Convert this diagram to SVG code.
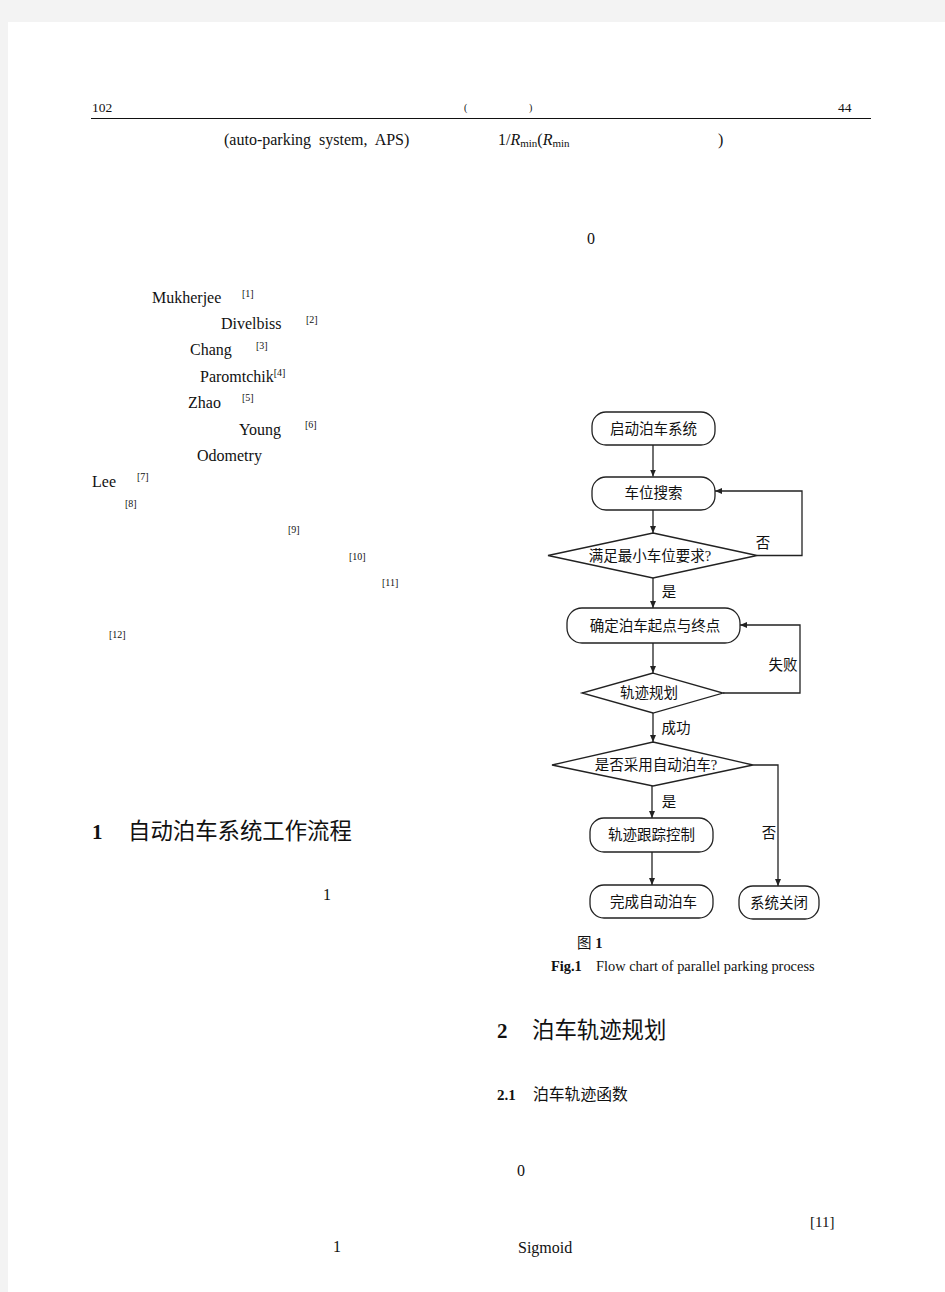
<svg xmlns="http://www.w3.org/2000/svg" width="945" height="1292" viewBox="0 0 945 1292">
<style>
.t{font-family:"Liberation Serif","Noto Sans CJK SC",serif;fill:#111;}
.b{font-weight:bold;}
.cj{font-family:"Liberation Serif","Noto Sans CJK SC",sans-serif;fill:#111;}
.node{fill:#fff;stroke:#222;stroke-width:1.3;}
.lbl{font-family:"Liberation Serif","Noto Sans CJK SC",serif;font-size:14.5px;fill:#111;text-anchor:middle;}
.edge{fill:none;stroke:#222;stroke-width:1.3;}
.sup{font-size:10px;}
</style>
<defs>
<marker id="ah" markerWidth="8" markerHeight="8" refX="7" refY="4" orient="auto" markerUnits="userSpaceOnUse">
<path d="M0,1 L7,4 L0,7 z" fill="#222"/>
</marker>
</defs>
<rect x="0" y="0" width="945" height="1292" fill="#f3f3f3"/>
<rect x="8" y="22" width="937" height="1270" fill="#fff"/>

<!-- header -->
<g id="header">
<text class="t" x="92" y="112" font-size="13.5">102</text>
<text class="t" x="464" y="111" font-size="10">(</text>
<text class="t" x="529" y="111" font-size="10">)</text>
<text class="t" x="838" y="112" font-size="13.5">44</text>
<line x1="91" y1="118.5" x2="871" y2="118.5" stroke="#111" stroke-width="1"/>
<text class="t" x="224" y="145" font-size="16" xml:space="preserve">(auto-parking  system,  APS)</text>
<text class="t" x="498" y="145" font-size="16">1/<tspan font-style="italic">R</tspan><tspan font-size="11" dy="2">min</tspan><tspan dy="-2">(</tspan><tspan font-style="italic">R</tspan><tspan font-size="11" dy="2">min</tspan></text>
<text class="t" x="718" y="145" font-size="16">)</text>
<text class="t" x="587" y="244" font-size="16">0</text>
</g>

<!-- left column text -->
<g id="leftcol">
<text class="t" x="152" y="303" font-size="16">Mukherjee</text>
<text class="t sup" x="242" y="297">[1]</text>
<text class="t" x="221" y="329" font-size="16">Divelbiss</text>
<text class="t sup" x="306" y="323">[2]</text>
<text class="t" x="190" y="355" font-size="16">Chang</text>
<text class="t sup" x="256" y="349">[3]</text>
<text class="t" x="200" y="382" font-size="16">Paromtchik<tspan font-size="10" dy="-6">[4]</tspan></text>
<text class="t" x="188" y="408" font-size="16">Zhao</text>
<text class="t sup" x="242" y="401">[5]</text>
<text class="t" x="239" y="435" font-size="16">Young</text>
<text class="t sup" x="305" y="428">[6]</text>
<text class="t" x="197" y="461" font-size="16">Odometry</text>
<text class="t" x="92" y="487" font-size="16">Lee</text>
<text class="t sup" x="137" y="480">[7]</text>
<text class="t sup" x="125" y="507">[8]</text>
<text class="t sup" x="288" y="533">[9]</text>
<text class="t sup" x="349" y="560">[10]</text>
<text class="t sup" x="382" y="586">[11]</text>
<text class="t sup" x="109" y="638">[12]</text>
<text class="t" x="92" y="839" font-size="21"><tspan class="b">1</tspan></text>
<text class="cj" x="128" y="839" font-size="22.4">自动泊车系统工作流程</text>
<text class="t" x="323" y="900" font-size="16">1</text>
</g>

<!-- connectors -->
<g id="connectors">
<line class="edge" x1="653" y1="445" x2="653" y2="476.5" marker-end="url(#ah)"/>
<line class="edge" x1="653" y1="510" x2="653" y2="533" marker-end="url(#ah)"/>
<polyline class="edge" points="757,555.5 802,555.5 802,491 715,491" marker-end="url(#ah)"/>
<line class="edge" x1="653" y1="578" x2="653" y2="608" marker-end="url(#ah)"/>
<line class="edge" x1="653" y1="643" x2="653" y2="673" marker-end="url(#ah)"/>
<polyline class="edge" points="723,693 800,693 800,625 740,625" marker-end="url(#ah)"/>
<line class="edge" x1="653" y1="713" x2="653" y2="742" marker-end="url(#ah)"/>
<polyline class="edge" points="753,765 778,765 778,886" marker-end="url(#ah)"/>
<line class="edge" x1="652" y1="786" x2="652" y2="818" marker-end="url(#ah)"/>
<line class="edge" x1="652" y1="852" x2="652" y2="885" marker-end="url(#ah)"/>
<text class="lbl" x="763" y="548">否</text>
<text class="lbl" x="669" y="597">是</text>
<text class="lbl" x="783" y="670">失败</text>
<text class="lbl" x="676" y="733">成功</text>
<text class="lbl" x="669" y="807">是</text>
<text class="lbl" x="769" y="838">否</text>
</g>

<!-- nodes -->
<g id="n_start">
<rect class="node" x="592" y="412" width="123" height="33" rx="14"/>
<text class="lbl" x="653.5" y="433.5">启动泊车系统</text>
</g>
<g id="n_search">
<rect class="node" x="592" y="477" width="123" height="33" rx="14"/>
<text class="lbl" x="653.5" y="498">车位搜索</text>
</g>
<g id="n_check">
<polygon class="node" points="653,533 757,555.5 653,578 548,555.5"/>
<text class="lbl" x="650" y="560.5">满足最小车位要求?</text>
</g>
<g id="n_points">
<rect class="node" x="567" y="608" width="173" height="35" rx="15"/>
<text class="lbl" x="655" y="630.5">确定泊车起点与终点</text>
</g>
<g id="n_plan">
<polygon class="node" points="653,673 723,693 653,713 582,693"/>
<text class="lbl" x="649" y="698">轨迹规划</text>
</g>
<g id="n_auto">
<polygon class="node" points="653,742 753,765 653,786 552,765"/>
<text class="lbl" x="656" y="770">是否采用自动泊车?</text>
</g>
<g id="n_track">
<rect class="node" x="590" y="818" width="123" height="34" rx="14"/>
<text class="lbl" x="651.5" y="840">轨迹跟踪控制</text>
</g>
<g id="n_done">
<rect class="node" x="590" y="885" width="123" height="33" rx="14"/>
<text class="lbl" x="653.5" y="906.5">完成自动泊车</text>
</g>
<g id="n_off">
<rect class="node" x="739" y="886" width="80" height="33" rx="14"/>
<text class="lbl" x="779" y="907.5">系统关闭</text>
</g>

<!-- caption and right column -->
<g id="caption">
<text class="cj" x="577" y="948" font-size="14.5">图 <tspan class="b" font-family="Liberation Serif">1</tspan></text>
<text class="t" x="551" y="971" font-size="14.4"><tspan class="b">Fig.1</tspan><tspan x="596">Flow chart of parallel parking process</tspan></text>
<text class="t" x="497" y="1038" font-size="21"><tspan class="b">2</tspan></text>
<text class="cj" x="532" y="1038" font-size="22.4">泊车轨迹规划</text>
<text class="t b" x="497" y="1100" font-size="15">2.1</text>
<text class="cj" x="533" y="1100" font-size="15.8">泊车轨迹函数</text>
<text class="t" x="517" y="1176" font-size="16">0</text>
<text class="t" x="810" y="1227" font-size="15">[11]</text>
<text class="t" x="333" y="1252" font-size="16">1</text>
<text class="t" x="518" y="1253" font-size="16">Sigmoid</text>
</g>
</svg>
